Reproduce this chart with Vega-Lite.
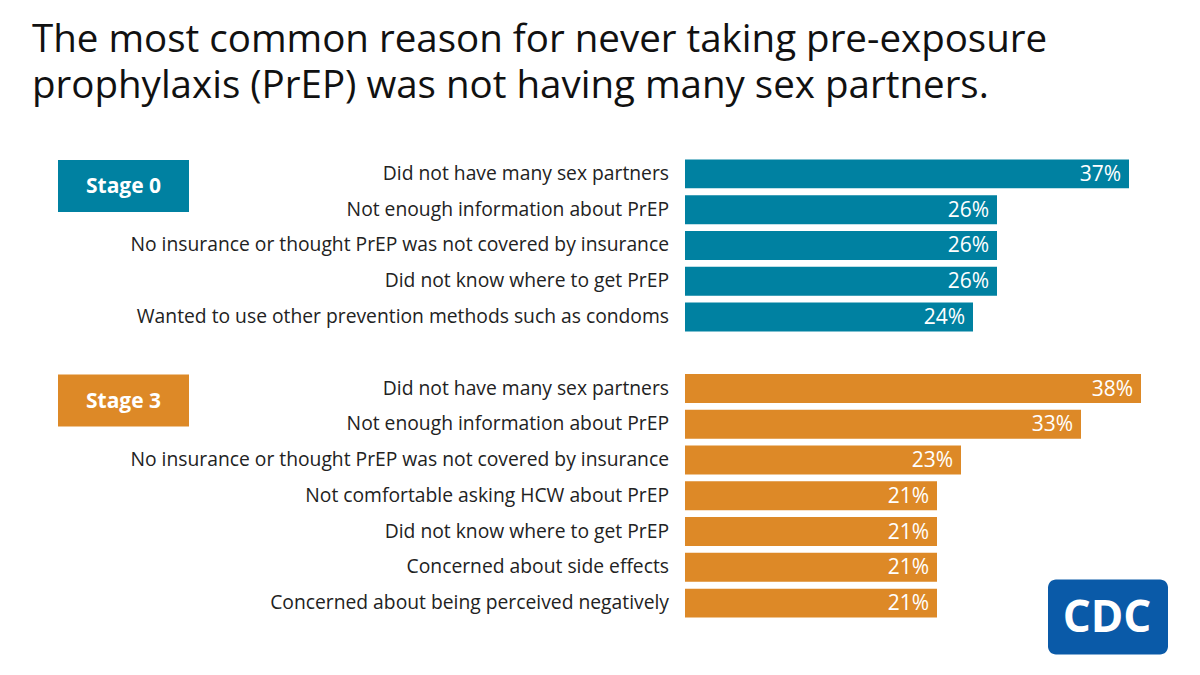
{
  "$schema": "https://vega.github.io/schema/vega-lite/v6.json",
  "width": 1136,
  "height": 465,
  "autosize": {"type": "none"},
  "padding": {"left": 32, "top": 156, "right": 32, "bottom": 54},
  "background": "white",
  "config": {"view": {"stroke": null}, "font": "Open Sans"},
  "title": {
    "text": ["The most common reason for never taking pre-exposure", "prophylaxis (PrEP) was not having many sex partners."],
    "anchor": "start",
    "frame": "group",
    "fontSize": 38.5,
    "fontWeight": "normal",
    "font": "Open Sans",
    "color": "#111111",
    "lineHeight": 46,
    "baseline": "top",
    "offset": 0,
    "dy": -50
  },
  "data": {
    "values": [
      {"id": "s0_1", "stage": "Stage 0", "reason": "Did not have many sex partners", "value": 0.37},
      {"id": "s0_2", "stage": "Stage 0", "reason": "Not enough information about PrEP", "value": 0.26},
      {"id": "s0_3", "stage": "Stage 0", "reason": "No insurance or thought PrEP was not covered by insurance", "value": 0.26},
      {"id": "s0_4", "stage": "Stage 0", "reason": "Did not know where to get PrEP", "value": 0.26},
      {"id": "s0_5", "stage": "Stage 0", "reason": "Wanted to use other prevention methods such as condoms", "value": 0.24},
      {"id": "s3_1", "stage": "Stage 3", "reason": "Did not have many sex partners", "value": 0.38},
      {"id": "s3_2", "stage": "Stage 3", "reason": "Not enough information about PrEP", "value": 0.33},
      {"id": "s3_3", "stage": "Stage 3", "reason": "No insurance or thought PrEP was not covered by insurance", "value": 0.23},
      {"id": "s3_4", "stage": "Stage 3", "reason": "Not comfortable asking HCW about PrEP", "value": 0.21},
      {"id": "s3_5", "stage": "Stage 3", "reason": "Did not know where to get PrEP", "value": 0.21},
      {"id": "s3_6", "stage": "Stage 3", "reason": "Concerned about side effects", "value": 0.21},
      {"id": "s3_7", "stage": "Stage 3", "reason": "Concerned about being perceived negatively", "value": 0.21}
    ]
  },
  "encoding": {
    "y": {
      "field": "id",
      "type": "nominal",
      "axis": null,
      "sort": null,
      "scale": {
        "domain": ["s0_1", "s0_2", "s0_3", "s0_4", "s0_5", "gap", "s3_1", "s3_2", "s3_3", "s3_4", "s3_5", "s3_6", "s3_7"],
        "paddingInner": 0.19,
        "paddingOuter": 0.095
      }
    }
  },
  "layer": [
    {
      "mark": {"type": "bar"},
      "encoding": {
        "x": {"field": "value", "type": "quantitative", "axis": null, "scale": {"domain": [-0.544167, 0.4025], "nice": false, "zero": false}},
        "x2": {"datum": 0},
        "color": {"field": "stage", "type": "nominal", "legend": null, "scale": {"domain": ["Stage 0", "Stage 3"], "range": ["#0081a1", "#dd8927"]}}
      }
    },
    {
      "mark": {"type": "text", "align": "right", "baseline": "middle", "dx": -8, "dy": 1, "fontSize": 21, "color": "white", "font": "Open Sans"},
      "encoding": {
        "x": {"field": "value", "type": "quantitative"},
        "text": {"field": "value", "type": "quantitative", "format": ".0%"}
      }
    },
    {
      "mark": {"type": "text", "align": "right", "baseline": "middle", "dx": -16, "dy": 0, "fontSize": 19.3, "color": "#222222", "font": "Open Sans"},
      "encoding": {
        "x": {"datum": 0},
        "text": {"field": "reason", "type": "nominal"}
      }
    },
    {
      "data": {"values": [{"id": "s0_1", "stage": "Stage 0"}, {"id": "s3_1", "stage": "Stage 3"}]},
      "mark": {"type": "bar", "size": 52, "yOffset": 12},
      "encoding": {
        "x": {"datum": -0.5225},
        "x2": {"datum": -0.413333},
        "color": {"field": "stage", "type": "nominal"}
      }
    },
    {
      "data": {"values": [{"id": "s0_1", "label": "Stage 0"}, {"id": "s3_1", "label": "Stage 3"}]},
      "mark": {"type": "text", "align": "center", "baseline": "middle", "yOffset": 12, "dy": 1, "fontSize": 21, "fontWeight": "bold", "color": "white", "font": "Open Sans"},
      "encoding": {
        "x": {"datum": -0.467917},
        "text": {"field": "label", "type": "nominal"}
      }
    },
    {
      "data": {"values": [{"id": "s3_7", "logo": "CDC"}]},
      "mark": {"type": "bar", "size": 75, "yOffset": 14, "color": "#0a5aa8", "cornerRadius": 8},
      "encoding": {
        "x": {"datum": 0.3025},
        "x2": {"datum": 0.4025}
      }
    },
    {
      "data": {"values": [{"id": "s3_7", "logo": "CDC"}]},
      "mark": {"type": "text", "align": "center", "baseline": "middle", "yOffset": 14, "dy": 2, "fontSize": 44, "fontWeight": "bold", "color": "white", "font": "Open Sans"},
      "encoding": {
        "x": {"datum": 0.351667},
        "text": {"field": "logo", "type": "nominal"}
      }
    }
  ]
}
